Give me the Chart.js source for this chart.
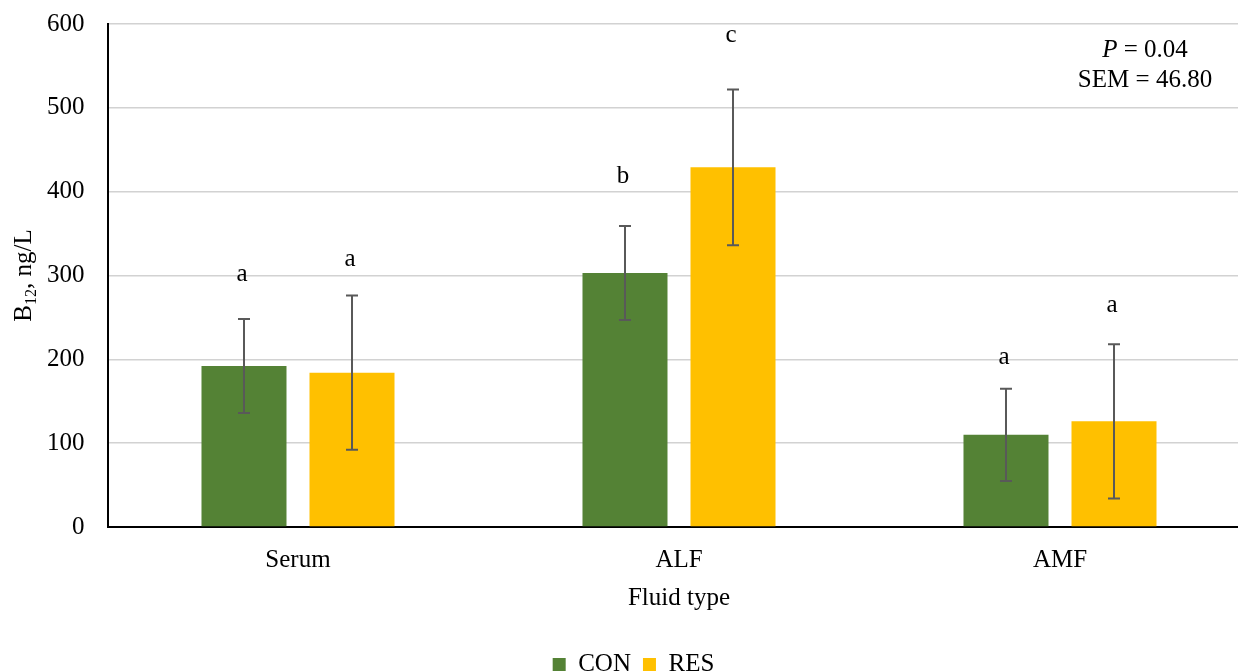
<!DOCTYPE html>
<html>
<head>
<meta charset="utf-8">
<title>B12 by fluid type</title>
<script src="https://cdn.jsdelivr.net/npm/chart.js@4/dist/chart.umd.min.js"></script>
<style>
  html, body { margin: 0; padding: 0; background: #fff; overflow: hidden; }
  #wrap { position: relative; width: 1252px; height: 687px; }
</style>
</head>
<body>
<div id="wrap"><canvas id="c"></canvas></div>
<script>
// ---- data ----
const categories = ['Serum', 'ALF', 'AMF'];
const seriesNames = ['CON', 'RES'];
const conMeans = [192, 303, 110];
const resMeans = [184, 429, 126];
const conErr = [56, 56, 55];
const resErr = [92, 93, 92];
const conLetters = ['a', 'b', 'a'];
const resLetters = ['a', 'c', 'a'];
// value (ng/L) at which each significance letter sits
const conLetterAt = [293, 410, 194];
const resLetterAt = [311, 578, 256];
const yTicks = [0, 100, 200, 300, 400, 500, 600];
const pValue = '0.04';
const semValue = '46.80';

const FONT = "'Liberation Serif', 'Times New Roman', Times, serif";
const FS = 25;

const errors = [conErr, resErr];
const letters = [conLetters, resLetters];
const letterAt = [conLetterAt, resLetterAt];

const annotations = {
  id: 'annotations',
  afterDatasetsDraw(chart) {
    const ctx = chart.ctx;
    const y = chart.scales.y;
    chart.data.datasets.forEach((ds, di) => {
      const meta = chart.getDatasetMeta(di);
      meta.data.forEach((bar, i) => {
        const v = ds.data[i];
        const e = errors[di][i];
        const yTop = y.getPixelForValue(v + e);
        const yBot = y.getPixelForValue(v - e);
        const x = bar.x;
        ctx.save();
        ctx.strokeStyle = '#595959';
        ctx.lineWidth = 2;
        ctx.beginPath();
        ctx.moveTo(x, yTop); ctx.lineTo(x, yBot);
        ctx.moveTo(x - 6, yTop); ctx.lineTo(x + 6, yTop);
        ctx.moveTo(x - 6, yBot); ctx.lineTo(x + 6, yBot);
        ctx.stroke();
        ctx.fillStyle = '#000';
        ctx.font = `${FS}px ${FONT}`;
        ctx.textAlign = 'center';
        ctx.textBaseline = 'alphabetic';
        ctx.fillText(letters[di][i], x - 2, y.getPixelForValue(letterAt[di][i]));
        ctx.restore();
      });
    });
  },
  afterDraw(chart) {
    const ctx = chart.ctx;
    ctx.save();
    ctx.fillStyle = '#000';
    ctx.textBaseline = 'alphabetic';

    // y axis title with subscript: B12, ng/L
    const main = `${FS}px ${FONT}`;
    const sub = `16px ${FONT}`;
    ctx.font = main;
    const wB = ctx.measureText('B').width;
    const wRest = ctx.measureText(', ng/L').width;
    ctx.font = sub;
    const wSub = ctx.measureText('12').width;
    const total = wB + wSub + wRest;
    const cy = (chart.chartArea.top + chart.chartArea.bottom) / 2;
    ctx.translate(31, cy);
    ctx.rotate(-Math.PI / 2);
    let x = -total / 2;
    ctx.textAlign = 'left';
    ctx.font = main; ctx.fillText('B', x, 0); x += wB;
    ctx.font = sub; ctx.fillText('12', x, 5); x += wSub;
    ctx.font = main; ctx.fillText(', ng/L', x, 0);
    ctx.setTransform(1, 0, 0, 1, 0, 0);

    // statistics box, top right
    const cx = 1145;
    const italic = `italic ${FS}px ${FONT}`;
    ctx.font = italic;
    const wP = ctx.measureText('P').width;
    ctx.font = main;
    const wPv = ctx.measureText(' = ' + pValue).width;
    const sx = cx - (wP + wPv) / 2;
    ctx.textAlign = 'left';
    ctx.font = italic; ctx.fillText('P', sx, 57);
    ctx.font = main; ctx.fillText(' = ' + pValue, sx + wP, 57);
    ctx.textAlign = 'center';
    ctx.fillText('SEM = ' + semValue, cx, 87);
    ctx.restore();
  }
};

new Chart(document.getElementById('c'), {
  type: 'bar',
  data: {
    labels: categories,
    datasets: [
      { label: seriesNames[0], data: conMeans, backgroundColor: '#548235', borderWidth: 0 },
      { label: seriesNames[1], data: resMeans, backgroundColor: '#FFC000', borderWidth: 0 }
    ]
  },
  options: {
    responsive: true,
    maintainAspectRatio: false,
    animation: false,
    devicePixelRatio: 1,
    datasets: { bar: { barPercentage: 0.787, categoryPercentage: 0.567 } },
    layout: { padding: { left: 16.5, right: 1.5, top: 24, bottom: 0 } },
    plugins: {
      legend: {
        position: 'bottom',
        labels: {
          boxWidth: 13, boxHeight: 13, padding: 12, color: '#000',
          font: { family: FONT, size: FS }
        }
      },
      tooltip: { enabled: false }
    },
    scales: {
      x: {
        grid: { display: false },
        border: { display: true, color: '#000', width: 2 },
        ticks: { color: '#000', padding: 10, font: { family: FONT, size: FS } },
        title: {
          display: true, text: 'Fluid type', color: '#000',
          font: { family: FONT, size: FS }, padding: { top: 0, bottom: 27 }
        },
        afterFit(s) { s.height = 113; }
      },
      y: {
        min: 0, max: 600,
        afterBuildTicks(s) { s.ticks = yTicks.map(v => ({ value: v })); },
        grid: { color: '#d2d2d2', lineWidth: 1.5, drawTicks: false },
        border: { display: true, color: '#000', width: 2 },
        ticks: { color: '#000', padding: 23, font: { family: FONT, size: FS } },
        afterFit(s) {
          s.width = 91;
          // only half a label needs room above/below the plot
          s.paddingTop = 15;
          s.paddingBottom = 15;
        }
      }
    }
  },
  plugins: [annotations]
});
</script>
</body>
</html>
